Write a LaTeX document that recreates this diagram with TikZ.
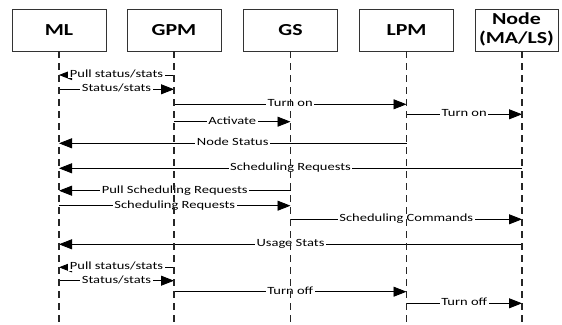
\documentclass[tikz,border=0pt]{standalone}
\usepackage{fontspec}
\setmainfont{Carlito}
\usetikzlibrary{arrows.meta}
\newcommand\msgtxt[1]{\scalebox{1.32}[1]{#1}}
\newcommand\boxtxt[1]{\scalebox{1.3}[1]{#1}}
\begin{document}
\begin{tikzpicture}[x=1pt,y=-1pt,
  actor/.style={draw=black!80, line width=0.9pt, minimum width=94pt, minimum height=41.5pt, inner sep=0pt, font=\fontsize{16.8}{19}\selectfont\bfseries},
  life/.style={draw=black!85, line width=1.2pt, dash pattern=on 7pt off 5pt},
  msg/.style={draw=black, line width=0.85pt, -{Triangle[length=13pt,width=10pt]}},
  lbl/.style={fill=white, inner xsep=1.5pt, inner ysep=0.5pt, font=\fontsize{11}{12}\selectfont, anchor=mid}
]
\useasboundingbox[fill=white] (0,0) rectangle (562,324);
% actors
\node[actor] (ml) at (59,30.25) {\boxtxt{ML}};
\node[actor] (gpm) at (174,30.25) {\boxtxt{GPM}};
\node[actor] (gs) at (290.5,30.25) {\boxtxt{GS}};
\node[actor] (lpm) at (406.5,30.25) {\boxtxt{LPM}};
\node[actor, minimum width=83pt] (nd) at (516.5,30.25) {\boxtxt{\begin{tabular}{@{}c@{}}Node\\(MA/LS)\end{tabular}}};
\coordinate (ndTop) at (522,51);
\coordinate (mlEnd) at (59,324);
\coordinate (gpmEnd) at (174,324);
\coordinate (gsEnd) at (290.5,324);
\coordinate (lpmEnd) at (406.5,324);
\coordinate (ndEnd) at (522,324);
% messages
\draw[msg] (gpm.south |- 0,75) -- node[lbl]{\msgtxt{Pull status/stats}} (ml.south |- 0,75);
\draw[msg] (ml.south |- 0,89.3) -- node[lbl]{\msgtxt{Status/stats}} (gpm.south |- 0,89.3);
\draw[msg] (gpm.south |- 0,104.3) -- node[lbl]{\msgtxt{Turn on}} (lpm.south |- 0,104.3);
\draw[msg] (lpm.south |- 0,114.3) -- node[lbl]{\msgtxt{Turn on}} (ndTop |- 0,114.3);
\draw[msg] (gpm.south |- 0,121.7) -- node[lbl]{\msgtxt{Activate}} (gs.south |- 0,121.7);
\draw[msg] (lpm.south |- 0,143.3) -- node[lbl]{\msgtxt{Node Status}} (ml.south |- 0,143.3);
\draw[msg] (ndTop |- 0,168.3) -- node[lbl]{\msgtxt{Scheduling Requests}} (ml.south |- 0,168.3);
\draw[msg] (gs.south |- 0,190.7) -- node[lbl]{\msgtxt{Pull Scheduling Requests}} (ml.south |- 0,190.7);
\draw[msg] (ml.south |- 0,205.7) -- node[lbl]{\msgtxt{Scheduling Requests}} (gs.south |- 0,205.7);
\draw[msg] (gs.south |- 0,219.3) -- node[lbl]{\msgtxt{Scheduling Commands}} (ndTop |- 0,219.3);
\draw[msg] (ndTop |- 0,244.3) -- node[lbl]{\msgtxt{Usage Stats}} (ml.south |- 0,244.3);
\draw[msg] (gpm.south |- 0,267.3) -- node[lbl]{\msgtxt{Pull status/stats}} (ml.south |- 0,267.3);
\draw[msg] (ml.south |- 0,280.7) -- node[lbl]{\msgtxt{Status/stats}} (gpm.south |- 0,280.7);
\draw[msg] (gpm.south |- 0,291.7) -- node[lbl]{\msgtxt{Turn off}} (lpm.south |- 0,291.7);
\draw[msg] (lpm.south |- 0,303.3) -- node[lbl]{\msgtxt{Turn off}} (ndTop |- 0,303.3);
% lifelines
\draw[life] (ml.south) -- (mlEnd);
\draw[life] (gpm.south) -- (gpmEnd);
\draw[life] (gs.south) -- (gsEnd);
\draw[life] (lpm.south) -- (lpmEnd);
\draw[life] (ndTop) -- (ndEnd);
\end{tikzpicture}
\end{document}
